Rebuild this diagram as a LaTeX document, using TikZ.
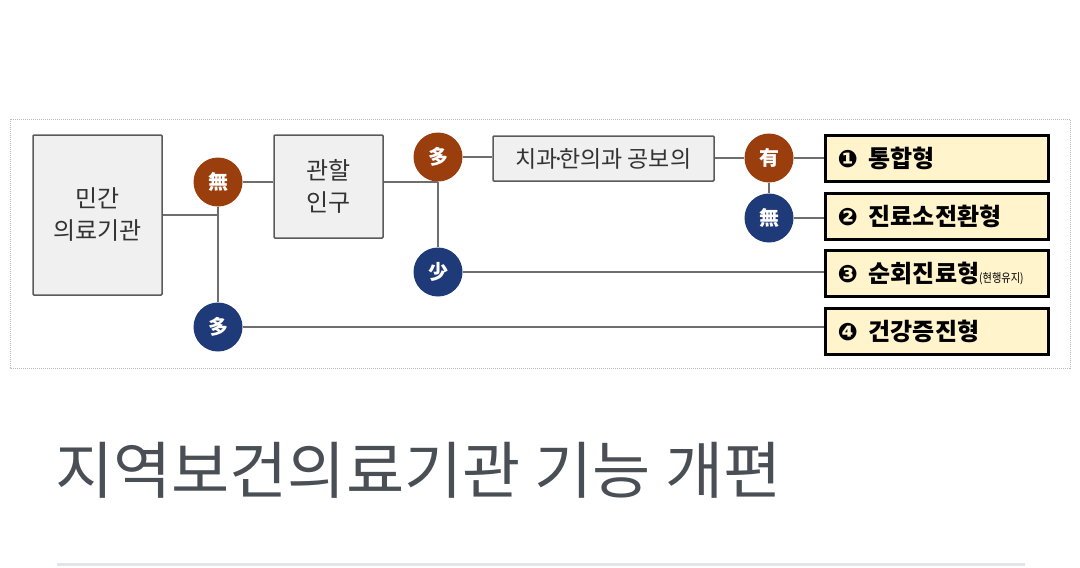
\documentclass[tikz,border=0pt]{standalone}
\usepackage{fontspec}
\setmainfont{Noto Sans CJK KR}
\newfontfamily\dingfont{DejaVu Sans}
\usepackage{tikz}
\usetikzlibrary{positioning}

\definecolor{boxgray}{HTML}{F0F0F0}
\definecolor{edgegray}{HTML}{5A5A5A}
\definecolor{linegray}{HTML}{6E6E6E}
\definecolor{rustbrown}{HTML}{9B3E0E}
\definecolor{navyblue}{HTML}{1F3A78}
\definecolor{paleyellow}{HTML}{FFF4CC}
\definecolor{titlegray}{HTML}{4A4F55}
\definecolor{rulegray}{HTML}{E1E4E8}
\definecolor{framegray}{HTML}{B8B8B8}

\newcommand{\typenum}[1]{{\dingfont\fontsize{24}{24}\selectfont #1}\hspace{11pt}}

\begin{document}
\begin{tikzpicture}[x=1pt,y=-1pt,
  basebox/.style={draw=edgegray,fill=boxgray,line width=1.5pt,rounded corners=1pt,
    text=black!80,align=center,font=\fontsize{24}{32}\selectfont},
  typebox/.style={draw=black,fill=paleyellow,line width=3pt,minimum height=46pt,
    text width=199pt,inner xsep=12pt,align=left,font=\bfseries\fontsize{24}{27}\selectfont},
  brownball/.style={circle,fill=rustbrown,minimum size=49pt,inner sep=0pt,
    text=white,font=\bfseries\fontsize{20}{20}\selectfont},
  navyball/.style={brownball,fill=navyblue},
  wire/.style={draw=linegray,line width=2pt}]
\useasboundingbox (0,0) rectangle (1080,568);

% ================= Frame =================
\draw[framegray,densely dotted,line width=1pt] (10,119) rectangle (1070,368);

% ================= Boxes =================
\node[basebox,minimum width=129pt,minimum height=160pt] (mingan) at (97.5,215) {민간\\의료기관};
\node[basebox,minimum width=109pt,minimum height=103pt] (gwanhal) at (328.5,186.5) {관할\\인구};
\node[basebox,minimum width=221pt,minimum height=45pt,font=\fontsize{23}{27}\selectfont]
  (gongbo) at (603.5,158.5) {치과\kern-6pt·\kern-6pt한의과\ 공보의};

\node[typebox] (tonghap) at (937,158.5) {\typenum{❶}통합형};
\node[typebox,below=8.5pt of tonghap] (jeonhwan) {\typenum{❷}진료소전환형};
\node[typebox,below=8.5pt of jeonhwan] (sunhoe)
  {\mbox{\typenum{❸}순회진료형{\mdseries\fontsize{12}{12}\selectfont\addfontfeature{FakeStretch=0.85}(현행유지)}}};
\node[typebox,below=8.5pt of sunhoe] (jeungjin) {\typenum{❹}건강증진형};

% ================= Decision balls =================
\node[brownball] (mu1) at (218,182) {無};
\node[navyball] (da2) at (218,327) {多};
\node[brownball] (da1) at (438,157) {多};
\node[navyball] (so) at (438,272) {少};
\node[brownball] (yu) at (769,158) {有};
\node[navyball] (mu2) at (769,218) {無};

% ================= Connectors =================
\draw[wire] (mingan.east) -- (mingan.east -| mu1);
\draw[wire] (mu1) -- (da2);
\draw[wire] (mu1) -- (mu1 -| gwanhal.west);
\draw[wire] (gwanhal.east |- mu1) -- (mu1 -| da1);
\draw[wire] (da1) -- (so);
\draw[wire] (da1) -- (da1 -| gongbo.west);
\draw[wire] (gongbo.east |- yu) -- (yu);
\draw[wire] (yu) -- (yu -| tonghap.west);
\draw[wire] (yu) -- (mu2);
\draw[wire] (mu2) -- (mu2 -| jeonhwan.west);
\draw[wire] (so) -- (so -| sunhoe.west);
\draw[wire] (da2) -- (da2 -| jeungjin.west);

% ================= Title =================
\node[anchor=west,text=titlegray,inner sep=0pt,font=\fontsize{62}{62}\selectfont,
  xscale=1.02,transform shape] (title) at (55,470) {지역보건의료기관 기능 개편};
\draw[rulegray,line width=3pt] (57,564) -- (1025,564);
\end{tikzpicture}
\end{document}
